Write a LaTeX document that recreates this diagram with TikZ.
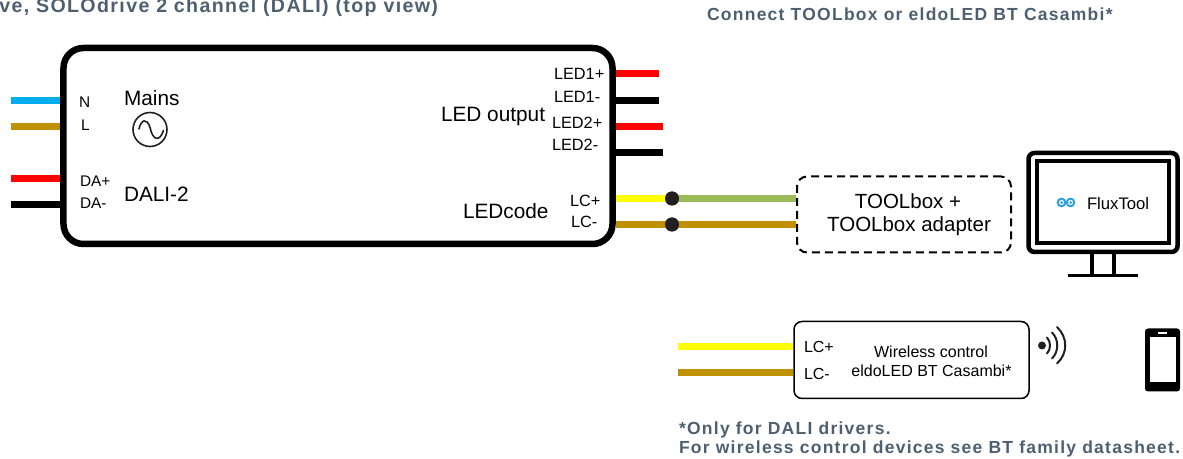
\documentclass[tikz,border=0pt]{standalone}
\usepackage{fontspec}
\setmainfont{Liberation Sans}
\newfontfamily\spacedbold[LetterSpace=7.2]{Liberation Sans Bold}
\newfontfamily\titlebold[LetterSpace=7]{Liberation Sans Bold}
\definecolor{cblue}{HTML}{00AEEF}
\definecolor{cbrown}{HTML}{BF9000}
\definecolor{cred}{HTML}{FF0000}
\definecolor{cyel}{HTML}{FFFF00}
\definecolor{cgreen}{HTML}{9BBB59}
\definecolor{ctitle}{HTML}{4D6072}
\definecolor{clogo}{HTML}{2F9FE0}
\definecolor{cdot}{HTML}{231F20}
\newcommand{\fsz}[1]{\fontsize{#1bp}{#1bp}\selectfont}
\tikzset{
  wire/.style={line width=7bp},
  lbl/.style={inner sep=0pt,outer sep=0pt,anchor=west,text=black},
  biglbl/.style={lbl,font=\fsz{20.8}},
  midlbl/.style={lbl,font=\fsz{16.3}},
  smalllbl/.style={lbl,font=\fsz{15.4}},
  heading/.style={inner sep=0pt,outer sep=0pt,anchor=west,text=ctitle,font=\spacedbold\fsz{17.5}},
  joint/.style={circle,fill=cdot,minimum size=14bp,inner sep=0pt},
}
\begin{document}
\begin{tikzpicture}[x=1bp,y=-1bp]
\useasboundingbox (0,-0.5) rectangle (1183,458.5);
% headings
\node[heading,anchor=east,font=\titlebold\fsz{19.6}] (title) at (438,7) {ve, SOLOdrive 2 channel (DALI) (top view)};
\node[heading] (connect) at (707,14) {Connect TOOLbox or eldoLED BT Casambi*};
\node[heading] (note1) at (679,429.5) {*Only for DALI drivers.};
\node[heading] (note2) at (679,448.5) {For wireless control devices see BT family datasheet.};
% driver
\node[draw=black,line width=6.5bp,rounded corners=20bp,minimum width=549bp,minimum height=196bp,inner sep=0pt] (driver) at (338,145.5) {};
% free ends
\coordinate (wN) at (11,100);
\coordinate (wL) at (11,126);
\coordinate (wDp) at (11,178);
\coordinate (wDm) at (11,204);
\coordinate (wL1p) at (659,73.5);
\coordinate (wL1m) at (659,100);
\coordinate (wL2p) at (663,126);
\coordinate (wL2m) at (663,152);
\draw[wire,cblue] (wN) -- (wN -| driver.west);
\draw[wire,cbrown] (wL) -- (wL -| driver.west);
\draw[wire,cred] (wDp) -- (wDp -| driver.west);
\draw[wire,black] (wDm) -- (wDm -| driver.west);
\draw[wire,cred] (wL1p) -- (wL1p -| driver.east);
\draw[wire,black] (wL1m) -- (wL1m -| driver.east);
\draw[wire,cred] (wL2p) -- (wL2p -| driver.east);
\draw[wire,black] (wL2m) -- (wL2m -| driver.east);
% driver labels
\node[smalllbl] (tN) at (79,101.5) {N};
\node[smalllbl] (tL) at (81,125) {L};
\node[smalllbl] (tDp) at (80,180.5) {DA+};
\node[smalllbl] (tDm) at (80,202.5) {DA-};
\node[biglbl] (tMains) at (124,98) {Mains};
\node[biglbl] (tDali) at (124,194) {DALI-2};
\node[biglbl] (tOut) at (441,116.5) {LED output};
\node[biglbl] (tCode) at (463,210.5) {LEDcode};
\node[midlbl] (tL1p) at (554,73.5) {LED1+};
\node[midlbl] (tL1m) at (554,96) {LED1-};
\node[midlbl] (tL2p) at (552,122) {LED2+};
\node[midlbl] (tL2m) at (552,144.5) {LED2-};
\node[midlbl] (tLp) at (570,200.5) {LC+};
\node[midlbl] (tLm) at (571,221) {LC-};
% AC symbol
\node[circle,draw=cdot,line width=1.6bp,minimum size=34bp,inner sep=0pt] (ac) at (150,129) {};
\draw[cdot,line width=1.6bp,line cap=round] (139,128.5) .. controls (141,119) and (147,117) .. (150,127) .. controls (153,141) and (160,141) .. (163.5,130);
% toolbox
\node[draw=black,line width=2bp,dash pattern=on 8bp off 5bp,rounded corners=10bp,minimum width=214bp,minimum height=76bp,inner sep=0pt] (toolbox) at (904,214) {};
\node[lbl,anchor=center,font=\fsz{20.5}] (tb1) at (908,201) {TOOLbox +};
\node[lbl,anchor=center,font=\fsz{20.5}] (tb2) at (909,226) {TOOLbox adapter};
% junctions and connections
\node[joint] (j1) at (672,198) {};
\node[joint] (j2) at (672,224) {};
\draw[wire,cyel] (j1 -| driver.east) -- (j1.center);
\draw[wire,cgreen] (j1.center) -- (j1 -| toolbox.west);
\draw[wire,cbrown] (j2 -| driver.east) -- (j2 -| toolbox.west);
\node[joint] at (j1) {};
\node[joint] at (j2) {};
% monitor
\node[draw=black,line width=4.5bp,rounded corners=6bp,minimum width=149bp,minimum height=99bp,inner sep=0pt] (mon) at (1103,202) {};
\node[draw=black,line width=4bp,minimum width=132bp,minimum height=82bp,inner sep=0pt] (screen) at (1103,202) {};
\coordinate (base1) at (1068,275);
\coordinate (base2) at (1138,275);
\draw[black,line width=3.5bp] (1092,254) -- (1092,275) (1114,254) -- (1114,275);
\draw[black,line width=3.5bp] (base1) -- (base2);
\draw[clogo,line width=2bp] (1061.5,202) circle (3.8bp) (1070.5,202) circle (3.8bp);
\fill[clogo] (1061.5,202) circle (1.5bp) (1070.5,202) circle (1.5bp);
\node[lbl,font=\fsz{16.7}] (flux) at (1087,203) {FluxTool};
% wireless
\node[draw=black,line width=1.5bp,rounded corners=8bp,minimum width=235bp,minimum height=77bp,inner sep=0pt] (wbox) at (911.5,359.5) {};
\coordinate (wYel) at (678,346);
\coordinate (wBro) at (678,372.5);
\draw[wire,cyel] (wYel) -- (wYel -| wbox.west);
\draw[wire,cbrown] (wBro) -- (wBro -| wbox.west);
\node[midlbl,font=\fsz{16}] (wLp) at (804,346) {LC+};
\node[midlbl,font=\fsz{16}] (wLm) at (804,373) {LC-};
\node[lbl,anchor=center,font=\fsz{16}] (w1) at (931,351) {Wireless control};
\node[lbl,anchor=center,font=\fsz{16}] (w2) at (931.5,370) {eldoLED BT Casambi*};
% radio waves
\fill[cdot] (1042,345) circle (4bp);
\draw[cdot,line width=2bp,line cap=round]
  (1047,337) .. controls (1051,341) and (1051,349) .. (1047,353)
  (1052,332) .. controls (1059,339) and (1059,351) .. (1052,358)
  (1057,326.5) .. controls (1068,337) and (1068,353) .. (1057,363);
% phone
\fill[black,rounded corners=3bp] (1145,328) rectangle (1180,391);
\fill[white] (1150,337) rectangle (1175.5,382);
\fill[white] (1158,331.8) rectangle (1167,333.4);
\end{tikzpicture}
\end{document}
